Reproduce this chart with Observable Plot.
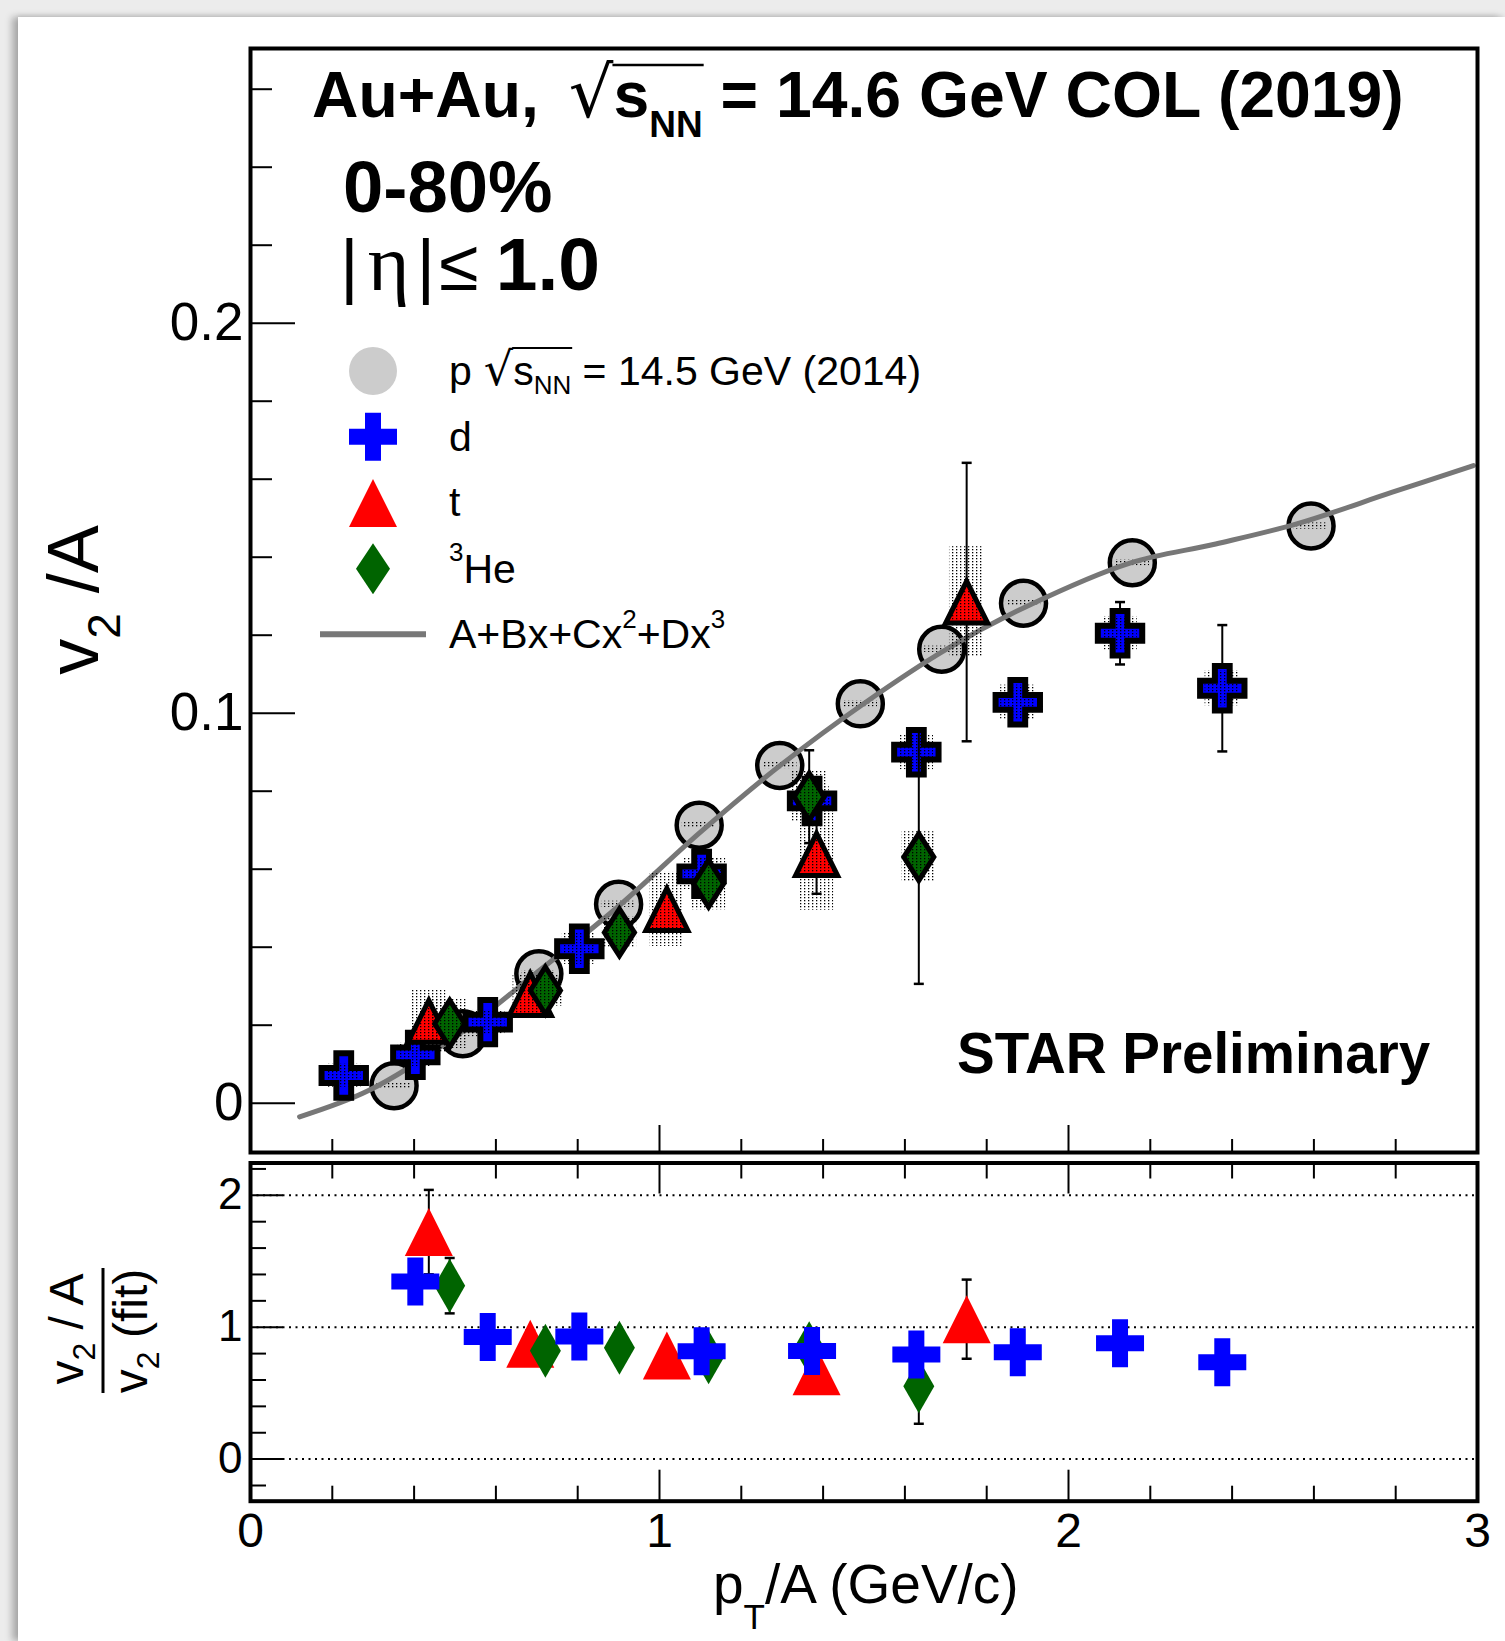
<!DOCTYPE html>
<html><head><meta charset="utf-8">
<script src="https://cdn.jsdelivr.net/npm/d3@7"></script>
<script src="https://cdn.jsdelivr.net/npm/@observablehq/plot@0.6"></script>
<style>
html,body{margin:0;padding:0;overflow:hidden;background:#ececec;width:1505px;height:1641px;}
#panel{position:absolute;left:18px;top:17px;width:1487px;height:1624px;background:#fff;box-shadow:-6px 0 7px rgba(0,0,0,0.28),0 -2px 4px rgba(0,0,0,0.06);}
#chart{position:absolute;left:0;top:0;width:1505px;height:1641px;}
#chart svg{position:absolute;left:0;}
</style></head><body>
<div id="panel"></div>
<svg width="0" height="0" style="position:absolute"><defs>
<pattern id="dots" width="4" height="3" patternUnits="userSpaceOnUse"><rect width="1.3" height="1.3" fill="#000"/></pattern>
</defs></svg>
<div id="chart"></div>
<script>
// ---------------- data ----------------
// protons, sqrt(sNN)=14.5 GeV (2014)
const pX    = [0.351, 0.519, 0.705, 0.900, 1.097, 1.294, 1.491, 1.690, 1.890, 2.156, 2.593];
const pY    = [0.0045, 0.0178, 0.0332, 0.0510, 0.0713, 0.0866, 0.1024, 0.1164, 0.1282, 0.1386, 0.1480];
const pStat = [0.0005, 0.0005, 0.0005, 0.0005, 0.0005, 0.0005, 0.0005, 0.0005, 0.0005, 0.0005, 0.0005];
const pSys  = [0.0008, 0.0008, 0.0008, 0.0008, 0.0008, 0.0008, 0.0008, 0.0008, 0.0008, 0.0008, 0.0008];
// deuterons
const dX    = [0.228, 0.403, 0.580, 0.804, 1.103, 1.373, 1.628, 1.876, 2.126, 2.376];
const dY    = [0.0071, 0.0124, 0.0208, 0.0396, 0.0588, 0.0775, 0.0900, 0.1028, 0.1205, 0.1064];
const dStat = [0.001, 0.001, 0.001, 0.0015, 0.002, 0.003, 0.003, 0.003, 0.0080, 0.0162];
const dSys  = [0.003, 0.003, 0.003, 0.004, 0.004, 0.004, 0.0045, 0.0044, 0.0043, 0.0045];
// tritons
const tX    = [0.436, 0.684, 1.018, 1.384, 1.751];
const tY    = [0.0210, 0.0279, 0.0497, 0.0638, 0.1285];
const tStat = [0.004, 0.003, 0.004, 0.0101, 0.0357];
const tSys  = [0.008, 0.005, 0.0095, 0.0143, 0.0142];
// 3He
const heX    = [0.487, 0.721, 0.902, 1.120, 1.366, 1.634];
const heY    = [0.0204, 0.0289, 0.0438, 0.0563, 0.0786, 0.0631];
const heStat = [0.003, 0.002, 0.002, 0.003, 0.0119, 0.0325];
const heSys  = [0.0064, 0.004, 0.004, 0.0067, 0.0065, 0.0065];
// fit curve A+Bx+Cx^2+Dx^3
const fitX = [0.12, 0.29, 0.5, 0.7, 0.9, 1.1, 1.3, 1.5, 1.7, 1.9, 2.15, 2.36, 2.56, 2.79, 2.99];
const fitY = [-0.0035, 0.0033, 0.017, 0.0335, 0.0505, 0.0695, 0.087, 0.1025, 0.1163, 0.1275, 0.1385, 0.1434, 0.1486, 0.1566, 0.1635];
// ratio panel: v2/A / v2(fit)
const dRX  = [0.403, 0.580, 0.804, 1.103, 1.373, 1.628, 1.876, 2.126, 2.376];
const dR   = [1.347, 0.925, 0.930, 0.817, 0.819, 0.794, 0.811, 0.879, 0.735];
const dRE  = [0.08, 0.05, 0.04, 0.04, 0.04, 0.04, 0.03, 0.06, 0.11];
const tRX  = [0.436, 0.684, 1.018, 1.384, 1.751];
const tR   = [1.721, 0.875, 0.786, 0.666, 1.061];
const tRE  = [0.32, 0.10, 0.08, 0.11, 0.30];
const heRX = [0.487, 0.721, 0.902, 1.120, 1.366, 1.634];
const heR  = [1.315, 0.822, 0.845, 0.773, 0.840, 0.553];
const heRE = [0.21, 0.07, 0.05, 0.05, 0.13, 0.285];
// ticks
const upperYMajor = [0, 0.1, 0.2];
const upperYMinor = [0.02, 0.04, 0.06, 0.08, 0.12, 0.14, 0.16, 0.18, 0.22, 0.24, 0.26];
const lowerYMajor = [0, 1, 2];
const lowerYMinor = [-0.2, 0.2, 0.4, 0.6, 0.8, 1.2, 1.4, 1.6, 1.8, 2.2];
const xMajor = [1, 2];
const xMinor = [0.2, 0.4, 0.6, 0.8, 1.2, 1.4, 1.6, 1.8, 2.2, 2.4, 2.6, 2.8];
const xLabels = [0, 1, 2, 3];

// ---------------- styling ----------------
const FONT = "'Liberation Sans', Arial, Helvetica, sans-serif";
const BLUE = "#0000ff", RED = "#ff0000", GREEN = "#006400", GRAY = "#cccccc", FITC = "#777777";
const W = 1505, ML = 250, MR = 28;
const SYSW = 0.042; // half width of systematic boxes (x units)

const rad = s => Math.sqrt(s / Math.PI);
const symCross = {draw(c, s) { const r = rad(s), a = r / 3;
  c.moveTo(-a, -r); c.lineTo(a, -r); c.lineTo(a, -a); c.lineTo(r, -a); c.lineTo(r, a); c.lineTo(a, a);
  c.lineTo(a, r); c.lineTo(-a, r); c.lineTo(-a, a); c.lineTo(-r, a); c.lineTo(-r, -a); c.lineTo(-a, -a); c.closePath(); }};
const symTri = {draw(c, s) { const r = rad(s); c.moveTo(0, -r); c.lineTo(r, r); c.lineTo(-r, r); c.closePath(); }};
const symDiamond = k => ({draw(c, s) { const r = rad(s), w = r * k; c.moveTo(0, -r); c.lineTo(w, 0); c.lineTo(0, r); c.lineTo(-w, 0); c.closePath(); }});
const symCap = {draw(c, s) { const r = rad(s); c.moveTo(-r, 0); c.lineTo(r, 0); }};

const rows = (xs, ys, es, ss) => xs.map((x, i) => ({x, y: ys[i], e: es[i], s: ss ? ss[i] : 0}));
const P = rows(pX, pY, pStat, pSys), D = rows(dX, dY, dStat, dSys), T = rows(tX, tY, tStat, tSys), HE = rows(heX, heY, heStat, heSys);
const DR = rows(dRX, dR, dRE), TR = rows(tRX, tR, tRE), HER = rows(heRX, heR, heRE);
const FIT = fitX.map((x, i) => ({x, y: fitY[i]}));

function errMarks(data, capR) {
  return [
    Plot.ruleX(data, {x: "x", y1: d => d.y - d.e, y2: d => d.y + d.e, stroke: "black", strokeWidth: 2}),
    Plot.dot(data, {x: "x", y: d => d.y + d.e, symbol: symCap, r: capR, fill: "none", stroke: "black", strokeWidth: 2.5}),
    Plot.dot(data, {x: "x", y: d => d.y - d.e, symbol: symCap, r: capR, fill: "none", stroke: "black", strokeWidth: 2.5})
  ];
}
function upperSpecies(data, symbol, r, fill, sw) {
  return [
    ...errMarks(data, 5),
    Plot.dot(data, {x: "x", y: "y", symbol, r, fill, stroke: "black", strokeWidth: sw, strokeLinejoin: "miter"}),
    Plot.rect(data, {x1: d => d.x - SYSW, x2: d => d.x + SYSW, y1: d => d.y - d.s, y2: d => d.y + d.s, fill: "url(#dots)"})
  ];
}
function lowerSpecies(data, symbol, r, fill) {
  return [
    ...errMarks(data, 5),
    Plot.dot(data, {x: "x", y: "y", symbol, r, fill, stroke: "none"})
  ];
}
const blank = () => "";

// ---------------- upper panel ----------------
const upper = Plot.plot({
  width: W, height: 1157, marginLeft: ML, marginRight: MR, marginTop: 48, marginBottom: 5,
  x: {domain: [0, 3]}, y: {domain: [-0.01264, 0.27044]},
  style: {background: "transparent", fontFamily: FONT, color: "black"},
  marks: [
    Plot.axisY(upperYMajor, {tickSize: 0, tickPadding: 7, fontSize: 53, tickFormat: d => d === 0 ? "0" : d.toFixed(1), label: null}),
    Plot.axisY(upperYMajor, {tickSize: -45, tickFormat: blank, strokeWidth: 2, label: null}),
    Plot.axisY(upperYMinor, {tickSize: -22, tickFormat: blank, strokeWidth: 2, label: null}),
    Plot.axisX(xMajor, {anchor: "bottom", tickSize: -27, tickFormat: blank, strokeWidth: 2, label: null}),
    Plot.axisX(xMinor, {anchor: "bottom", tickSize: -13, tickFormat: blank, strokeWidth: 2, label: null}),
    ...upperSpecies(P, "circle", 22.5, GRAY, 4.5),
    Plot.line(FIT, {x: "x", y: "y", stroke: FITC, strokeWidth: 5, curve: "catmull-rom"}),
    ...upperSpecies(D, symCross, 22.2, BLUE, 6),
    ...upperSpecies(T, symTri, 21, RED, 5),
    ...upperSpecies(HE, symDiamond(0.64), 23.5, GREEN, 5),
    Plot.frame({stroke: "black", strokeWidth: 4})
  ]
});

// ---------------- lower panel ----------------
const lower = Plot.plot({
  width: W, height: 484, marginLeft: ML, marginRight: MR, marginTop: 5.5, marginBottom: 140.3,
  x: {domain: [0, 3]}, y: {domain: [-0.319, 2.245]},
  style: {background: "transparent", fontFamily: FONT, color: "black"},
  marks: [
    Plot.ruleY(lowerYMajor, {stroke: "black", strokeWidth: 2, strokeDasharray: "2,4.5"}),
    Plot.axisY(lowerYMajor, {tickSize: 0, tickPadding: 8, fontSize: 44, tickFormat: d => String(d), label: null}),
    Plot.axisY(lowerYMajor, {tickSize: -33, tickFormat: blank, strokeWidth: 2, label: null}),
    Plot.axisY(lowerYMinor, {tickSize: -16, tickFormat: blank, strokeWidth: 2, label: null}),
    Plot.axisX(xLabels, {anchor: "bottom", tickSize: 0, tickPadding: 12, fontSize: 48, tickFormat: d => String(d), label: null}),
    Plot.axisX(xMajor, {anchor: "bottom", tickSize: -31, tickFormat: blank, strokeWidth: 2, label: null}),
    Plot.axisX(xMinor, {anchor: "bottom", tickSize: -15, tickFormat: blank, strokeWidth: 2, label: null}),
    Plot.axisX(xMajor, {anchor: "top", tickSize: -30, tickFormat: blank, strokeWidth: 2, label: null}),
    Plot.axisX(xMinor, {anchor: "top", tickSize: -15, tickFormat: blank, strokeWidth: 2, label: null}),
    ...lowerSpecies(TR, symTri, 24, RED),
    ...lowerSpecies(HER, symDiamond(0.574), 27, GREEN),
    ...lowerSpecies(DR, symCross, 24, BLUE),
    Plot.frame({stroke: "black", strokeWidth: 4})
  ]
});

const chart = document.getElementById("chart");
upper.style.top = "0px"; lower.style.top = "1157px";
chart.append(upper, lower);

// ---------------- rich text helper ----------------
function rich(svgEl, x, y, parts, {rotate = 0, anchor = "start"} = {}) {
  const g = d3.select(svgEl).append("g").attr("transform", `translate(${x},${y}) rotate(${rotate})`);
  const t = g.append("text").attr("text-anchor", anchor).attr("font-family", FONT).attr("fill", "black").style("white-space", "pre");
  let cur = 0; const idx = []; let n = 0;
  for (const p of parts) {
    const ts = t.append("tspan").text(p.t).attr("font-size", p.size).attr("font-weight", p.weight || "normal");
    if (p.family) ts.attr("font-family", p.family);
    const sh = p.shift || 0;
    if (sh !== cur) { ts.attr("dy", sh - cur); cur = sh; }
    if (p.dx) ts.attr("dx", p.dx);
    idx.push(n); n += p.t.length;
  }
  return {g, t, idx};
}
function overline(r, fromPart, toPart, yy, sw) {
  const node = r.t.node();
  const x1 = node.getStartPositionOfChar(r.idx[fromPart]).x - 1;
  const lastIdx = r.idx[toPart] + r.t.selectAll("tspan").nodes()[toPart].textContent.length - 1;
  const x2 = node.getEndPositionOfChar(lastIdx).x + 1;
  r.g.append("line").attr("x1", x1).attr("x2", x2).attr("y1", yy).attr("y2", yy).attr("stroke", "black").attr("stroke-width", sw);
}

// ---------------- annotations (upper) ----------------
const RADF = "'DejaVu Sans', sans-serif";
const title = rich(upper, 312, 117, [
  {t: "Au+Au,", size: 64.3, weight: "bold"},
  {t: "√", size: 70, family: RADF, dx: 30},
  {t: "s", size: 64.3, weight: "bold", dx: 0},
  {t: "NN", size: 37, weight: "bold", shift: 20},
  {t: " = 14.6 GeV COL (2019)", size: 64.3, weight: "bold", shift: 0}
]);
overline(title, 2, 3, -52, 2.5);
rich(upper, 343, 212, [{t: "0-80%", size: 72.5, weight: "bold"}]);
rich(upper, 340, 290, [
  {t: "|", size: 72},
  {t: "η", size: 80, family: "'Liberation Serif', serif", dx: 9},
  {t: "|", size: 72, dx: 7},
  {t: "≤", size: 72, dx: 4},
  {t: "1.0", size: 75, weight: "bold", dx: 17}
]);
rich(upper, 957, 1073, [{t: "STAR Preliminary", size: 56.5, weight: "bold"}]);
rich(upper, 98, 600, [
  {t: "v", size: 72}, {t: "2", size: 46, shift: 22}, {t: " /A", size: 72, shift: 0}
], {rotate: -90, anchor: "middle"});

// legend
const LX = 373, TX = 449, LF = 41, LS = 26;
const legSym = [
  {sym: d3.symbolCircle, r: 24, fill: GRAY, y: 371},
  {sym: symCross, r: 24, fill: BLUE, y: 436.7},
  {sym: symTri, r: 24, fill: RED, y: 503},
  {sym: symDiamond(0.667), r: 25.5, fill: GREEN, y: 568.7}
];
const ug = d3.select(upper).append("g");
for (const s of legSym) {
  ug.append("path").attr("transform", `translate(${LX},${s.y})`)
    .attr("d", d3.symbol(s.sym, Math.PI * s.r * s.r)()).attr("fill", s.fill);
}
ug.append("line").attr("x1", 320).attr("x2", 426).attr("y1", 634.3).attr("y2", 634.3).attr("stroke", FITC).attr("stroke-width", 6);
const leg1 = rich(upper, TX, 385, [
  {t: "p", size: LF},
  {t: "√", size: 46, family: RADF, dx: 12},
  {t: "s", size: LF},
  {t: "NN", size: LS, shift: 9},
  {t: " = 14.5 GeV (2014)", size: LF, shift: 0}
]);
overline(leg1, 2, 3, -37, 2);
rich(upper, TX, 450.7, [{t: "d", size: LF}]);
rich(upper, TX, 516, [{t: "t", size: LF}]);
rich(upper, TX, 582.7, [{t: "3", size: LS, shift: -22}, {t: "He", size: LF, shift: 0}]);
rich(upper, TX, 648.3, [
  {t: "A+Bx+Cx", size: LF}, {t: "2", size: LS, shift: -20}, {t: "+Dx", size: LF, shift: 0}, {t: "3", size: LS, shift: -20}
]);

// ---------------- annotations (lower) ----------------
const OY = 1157;
rich(lower, 713, 1603 - OY, [
  {t: "p", size: 55}, {t: "T", size: 35, shift: 26}, {t: "/A (GeV/c)", size: 55, shift: 0}
]);
rich(lower, 83, 1329 - OY, [
  {t: "v", size: 48}, {t: "2", size: 32, shift: 12}, {t: " / A", size: 48, shift: 0}
], {rotate: -90, anchor: "middle"});
rich(lower, 147, 1331 - OY, [
  {t: "v", size: 48}, {t: "2", size: 32, shift: 12}, {t: " (fit)", size: 48, shift: 0}
], {rotate: -90, anchor: "middle"});
d3.select(lower).append("line").attr("x1", 103).attr("x2", 103).attr("y1", 1268 - OY).attr("y2", 1393 - OY)
  .attr("stroke", "black").attr("stroke-width", 3);
</script>
</body></html>
